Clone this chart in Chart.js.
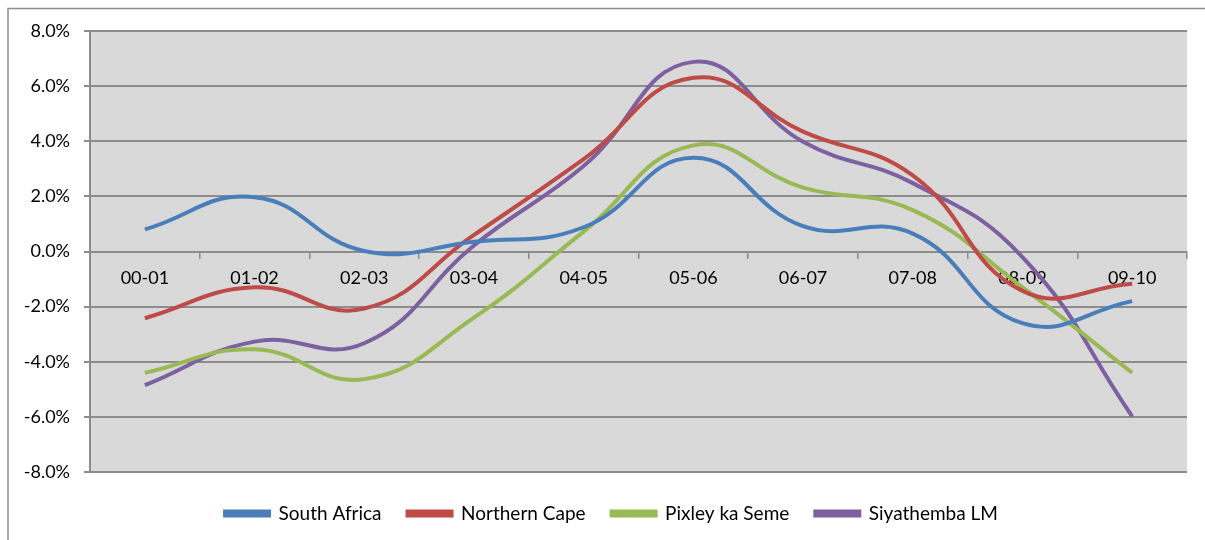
<!DOCTYPE html>
<html>
<head>
<meta charset="utf-8">
<script src="https://cdn.jsdelivr.net/npm/chart.js@4"></script>
<style>
  body { margin: 0; background: #fff; }
  #wrap { width: 1205px; height: 540px; position: relative; }
</style>
</head>
<body>
<div id="wrap"><canvas id="myChart" width="1205" height="540"></canvas></div>
<script>
// categories (financial years)
var years = ['00-01', '01-02', '02-03', '03-04', '04-05', '05-06', '06-07', '07-08', '08-09', '09-10'];

// growth in total employment, %
var southAfrica   = [0.8, 1.97, 0.02, 0.35, 0.88, 3.4, 0.92, 0.65, -2.6, -1.8];
var northernCape  = [-2.42, -1.3, -2.07, 0.6, 3.35, 6.3, 4.35, 2.76, -1.43, -1.17];
var pixleyKaSeme  = [-4.4, -3.55, -4.63, -2.4, 0.72, 3.85, 2.32, 1.5, -1.3, -4.4];
var siyathembaLM  = [-4.85, -3.27, -3.33, 0.22, 3.1, 6.88, 3.98, 2.48, -0.2, -5.98];

// y axis range / ticks
var yMin = -8, yMax = 8, yStep = 2;

var font = { family: 'Lato', size: 18 };

// grey plot area + frame around the whole chart
var plotBg = {
    id: 'plotBg',
    afterLayout: function(chart) {
        // legend sits centred under the frame, a bit right of the canvas centre
        if (chart.legend) {
            chart.legend.left += 18;
            chart.legend.right += 18;
        }
    },
    beforeDraw: function(chart) {
        var c = chart.ctx, a = chart.chartArea;
        c.save();
        c.fillStyle = '#d9d9d9';
        c.fillRect(a.left, a.top, a.right - a.left, a.bottom - a.top);
        c.strokeStyle = '#8c8c8c';
        c.lineWidth = 1.5;
        c.beginPath();
        c.moveTo(8, 540);
        c.lineTo(8, 8.5);
        c.lineTo(1205, 8.5);
        c.stroke();
        c.restore();
    }
};

function series(label, data, color) {
    return {
        label: label,
        data: data,
        borderColor: color,
        backgroundColor: color,
        borderWidth: 4,
        pointRadius: 0,
        tension: 0.45,
        fill: false
    };
}

var ctx = document.getElementById('myChart').getContext('2d');
var chart = new Chart(ctx, {
    type: 'line',
    data: {
        labels: years,
        datasets: [
            series('South Africa', southAfrica, '#4a7ebb'),
            series('Northern Cape', northernCape, '#be4b48'),
            series('Pixley ka Seme', pixleyKaSeme, '#98b954'),
            series('Siyathemba LM', siyathembaLM, '#7d60a0')
        ]
    },
    options: {
        responsive: false,
        animation: false,
        layout: { padding: { left: 0, right: 18, top: 31, bottom: 7 } },
        plugins: {
            tooltip: { enabled: false },
            legend: {
                position: 'bottom',
                title: { display: true, text: ' ', padding: 0, font: { size: 5 } },
                labels: {
                    font: { family: 'Lato', size: 19 },
                    color: '#000',
                    boxWidth: 44,
                    boxHeight: 4,
                    padding: 26
                }
            }
        },
        scales: {
            x: {
                position: { y: 0 },
                offset: true,
                grid: {
                    offset: true,
                    drawOnChartArea: false,
                    drawTicks: true,
                    tickLength: 6,
                    color: '#8c8c8c',
                    lineWidth: 1.5
                },
                border: { display: true, color: '#8c8c8c', width: 2 },
                ticks: { font: font, color: '#000', padding: 10, maxRotation: 0 }
            },
            y: {
                min: yMin,
                max: yMax,
                afterFit: function(scale) { scale.width = 90; },
                grid: {
                    color: '#8c8c8c',
                    lineWidth: 2,
                    tickLength: 6
                },
                border: { display: true, color: '#8c8c8c', width: 2 },
                ticks: {
                    stepSize: yStep,
                    font: font,
                    color: '#000',
                    padding: 14,
                    callback: function(v) { return v.toFixed(1) + '%'; }
                }
            }
        }
    },
    plugins: [plotBg]
});
</script>
</body>
</html>
